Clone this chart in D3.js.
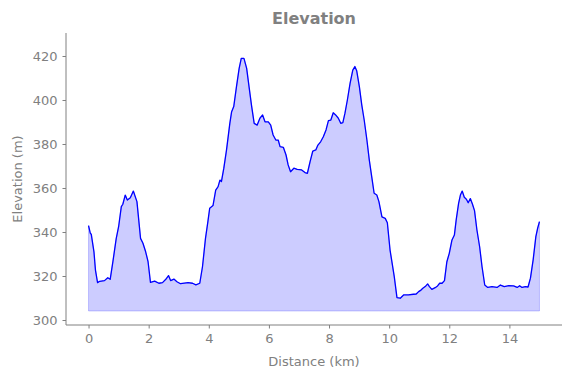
<!DOCTYPE html>
<html>
<head>
<meta charset="utf-8">
<script src="https://cdn.jsdelivr.net/npm/d3@7"></script>
<style>
  body { margin: 0; background: #fff; }
  svg text { font-family: "DejaVu Sans", sans-serif; fill: #808080; }
</style>
</head>
<body>
<div id="chart"></div>
<script>
// distance along the track (km) and elevation (m)
const distance = [0, 0.06, 0.09, 0.18, 0.23, 0.3, 0.37, 0.53, 0.64, 0.72, 0.81, 0.92, 1.0, 1.09, 1.14, 1.22, 1.29, 1.39, 1.49, 1.61, 1.73, 1.81, 1.9, 1.98, 2.06, 2.2, 2.34, 2.46, 2.57, 2.66, 2.73, 2.84, 2.94, 3.06, 3.31, 3.46, 3.57, 3.7, 3.79, 3.89, 3.97, 4.03, 4.14, 4.23, 4.31, 4.37, 4.42, 4.5, 4.59, 4.7, 4.76, 4.83, 4.92, 5.01, 5.08, 5.17, 5.26, 5.34, 5.42, 5.51, 5.61, 5.7, 5.79, 5.87, 5.98, 6.06, 6.14, 6.23, 6.31, 6.37, 6.48, 6.57, 6.64, 6.72, 6.83, 6.94, 7.09, 7.2, 7.28, 7.37, 7.46, 7.56, 7.63, 7.72, 7.81, 7.9, 7.98, 8.06, 8.14, 8.22, 8.31, 8.39, 8.46, 8.53, 8.61, 8.7, 8.79, 8.86, 8.92, 9.01, 9.09, 9.17, 9.26, 9.34, 9.42, 9.5, 9.59, 9.66, 9.76, 9.87, 9.94, 10.03, 10.17, 10.26, 10.37, 10.48, 10.64, 10.81, 10.9, 10.98, 11.06, 11.12, 11.2, 11.28, 11.34, 11.42, 11.53, 11.61, 11.68, 11.76, 11.84, 11.92, 12.0, 12.09, 12.17, 12.23, 12.31, 12.37, 12.43, 12.5, 12.57, 12.63, 12.7, 12.77, 12.84, 12.92, 13.01, 13.09, 13.18, 13.28, 13.42, 13.59, 13.7, 13.83, 13.98, 14.14, 14.26, 14.34, 14.42, 14.53, 14.62, 14.7, 14.79, 14.88, 14.94, 15.0];
const elevation = [342.9, 339.4, 339, 331, 322.7, 317, 317.6, 317.9, 319.2, 318.5, 326.5, 337, 342.4, 351.5, 352.6, 356.8, 354.5, 355.6, 358.6, 353.8, 337.1, 334.9, 331, 326.5, 317.1, 317.7, 316.7, 317, 318.5, 320.2, 317.9, 318.6, 317.4, 316.5, 317, 316.7, 316, 316.7, 324.2, 337.1, 344.7, 350.8, 352, 359, 360.6, 363.6, 362.9, 369, 377.3, 389.4, 394.7, 397, 406, 414.4, 418.9, 418.9, 414.4, 406, 397.7, 389.4, 388.6, 391.7, 393.2, 390.1, 390.1, 388.6, 384.1, 381.8, 381.8, 378.8, 378.5, 375, 370.5, 367.4, 369, 368.5, 368.2, 367, 366.7, 372, 376.8, 377.3, 379.5, 381, 383.3, 386.4, 390.6, 390.9, 394.2, 393.2, 391.7, 389.4, 389.7, 394, 400, 407.6, 413.6, 415.2, 413.3, 406, 397.7, 390.9, 381.8, 372.7, 365.2, 357.6, 356.8, 353.8, 346.9, 346.2, 344.2, 331.8, 319.7, 310.2, 309.9, 311.4, 311.4, 311.7, 311.8, 312.9, 313.6, 314.4, 315.2, 316.4, 315.2, 313.9, 314.7, 315.5, 316.7, 316.7, 317.9, 326.5, 330.3, 336.4, 338.6, 345.5, 353, 356.8, 358.6, 355.8, 354.9, 353.3, 355.2, 352.7, 349.7, 340.9, 333.3, 324.2, 315.9, 314.8, 315.2, 314.8, 315.9, 315.2, 315.6, 315.5, 314.8, 315.6, 314.8, 315.2, 315, 319, 327.3, 337.9, 341.7, 344.7];
const fillBase = 304.1;
const xTicks = [0, 2, 4, 6, 8, 10, 12, 14];
const yTicks = [300, 320, 340, 360, 380, 400, 420];

const width = 571, height = 378;
const margin = { top: 33, right: 9, bottom: 53, left: 66 };

const points = distance.map((d, i) => ({ d: d, e: elevation[i] }));

const x = d3.scaleLinear().domain([-0.75, 15.75]).range([margin.left, width - margin.right]);
const y = d3.scaleLinear().domain([297.73, 430.45]).range([height - margin.bottom, margin.top]);

const svg = d3.select("#chart").append("svg")
    .attr("width", width)
    .attr("height", height);

svg.append("path")
    .datum(points)
    .attr("fill", "#ccccff")
    .attr("stroke", "rgba(0,0,255,0.2)")
    .attr("stroke-width", 1)
    .attr("d", d3.area().x(p => x(p.d)).y0(y(fillBase)).y1(p => y(p.e)));

svg.append("path")
    .datum(points)
    .attr("fill", "none")
    .attr("stroke", "#0000ff")
    .attr("stroke-width", 1.3)
    .attr("stroke-linejoin", "round")
    .attr("d", d3.line().x(p => x(p.d)).y(p => y(p.e)));

const xAxis = svg.append("g")
    .attr("transform", `translate(0,${height - margin.bottom})`)
    .call(d3.axisBottom(x).tickValues(xTicks).tickSize(3.5).tickPadding(5).tickFormat(d3.format("d")));

const yAxis = svg.append("g")
    .attr("transform", `translate(${margin.left},0)`)
    .call(d3.axisLeft(y).tickValues(yTicks).tickSize(3.5).tickPadding(5).tickFormat(d3.format("d")));

[xAxis, yAxis].forEach(g => {
    g.selectAll(".domain").attr("stroke", "#808080").attr("d", null);
    g.selectAll("line").attr("stroke", "#808080");
    g.selectAll("text").attr("font-size", 13).style("fill", "#808080");
});
xAxis.select(".domain").attr("d", `M${margin.left},0H${width - margin.right}`);
yAxis.select(".domain").attr("d", `M0,${margin.top}V${height - margin.bottom}`);

svg.append("text")
    .attr("x", (margin.left + width - margin.right) / 2)
    .attr("y", 24)
    .attr("text-anchor", "middle")
    .attr("font-size", 16)
    .attr("font-weight", "bold")
    .text("Elevation");

svg.append("text")
    .attr("x", (margin.left + width - margin.right) / 2)
    .attr("y", 366)
    .attr("text-anchor", "middle")
    .attr("font-size", 13)
    .text("Distance (km)");

svg.append("text")
    .attr("transform", `translate(22,${(margin.top + height - margin.bottom) / 2}) rotate(-90)`)
    .attr("text-anchor", "middle")
    .attr("font-size", 13)
    .text("Elevation (m)");
</script>
</body>
</html>
